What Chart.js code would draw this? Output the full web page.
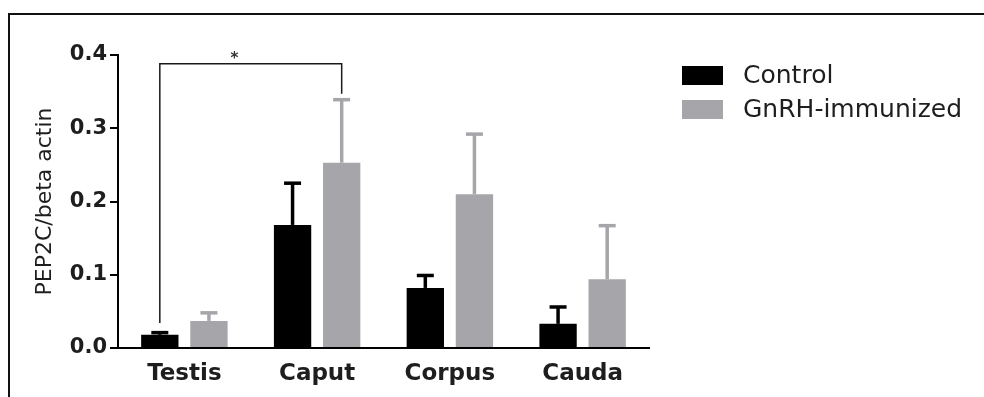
<!DOCTYPE html>
<html>
<head>
<meta charset="utf-8">
<script src="https://cdn.jsdelivr.net/npm/chart.js@4.4.0/dist/chart.umd.min.js"></script>
<style>
  html, body { margin: 0; padding: 0; background: #fff; }
</style>
</head>
<body>
<canvas id="chart" width="984" height="397"></canvas>
<script>
// data
var categories = ["Testis", "Caput", "Corpus", "Cauda"];
var seriesNames = ["Control", "GnRH-immunized"];
var control = [0.018, 0.168, 0.082, 0.033];
var controlErr = [0.003, 0.057, 0.017, 0.023];
var gnrh = [0.037, 0.253, 0.210, 0.094];
var gnrhErr = [0.011, 0.086, 0.082, 0.073];
var tickLabels = ["0.0", "0.1", "0.2", "0.3", "0.4"];
var yTitle = "PEP2C/beta actin";
var sigMark = "*";
var sigHeight = 0.388;

var black = "#000000";
var grey = "#a6a6aa";
var textColor = "#1e1e1e";
var fontFamily = "'DejaVu Sans', sans-serif";

// white background + the outer frame (top and left edges only)
var framePlugin = {
  id: "frame",
  beforeDraw: function(chart){
    var ctx = chart.ctx;
    ctx.save();
    ctx.fillStyle = "#fff";
    ctx.fillRect(0, 0, chart.width, chart.height);
    ctx.strokeStyle = "#111";
    ctx.lineWidth = 2;
    ctx.beginPath();
    ctx.moveTo(9, chart.height);
    ctx.lineTo(9, 14);
    ctx.lineTo(chart.width, 14);
    ctx.stroke();
    ctx.restore();
  }
};

// SD error bars, upper side only
var errorBarPlugin = {
  id: "errorBars",
  afterDatasetsDraw: function(chart){
    var ctx = chart.ctx;
    var y = chart.scales.y;
    ctx.save();
    chart.data.datasets.forEach(function(ds, di){
      var meta = chart.getDatasetMeta(di);
      meta.data.forEach(function(bar, i){
        var top = y.getPixelForValue(ds.data[i] + ds.errors[i]);
        ctx.strokeStyle = ds.backgroundColor;
        ctx.lineWidth = 3.5;
        ctx.beginPath();
        ctx.moveTo(bar.x, bar.y);
        ctx.lineTo(bar.x, top);
        ctx.stroke();
        ctx.beginPath();
        ctx.moveTo(bar.x - 8.5, top);
        ctx.lineTo(bar.x + 8.5, top);
        ctx.stroke();
      });
    });
    ctx.restore();
  }
};

// significance bracket Testis control vs Caput GnRH
var bracketPlugin = {
  id: "bracket",
  afterDatasetsDraw: function(chart){
    var ctx = chart.ctx;
    var y = chart.scales.y;
    var d0 = chart.data.datasets[0], d1 = chart.data.datasets[1];
    var b0 = chart.getDatasetMeta(0).data[0];
    var b1 = chart.getDatasetMeta(1).data[1];
    var yTop = y.getPixelForValue(sigHeight);
    var yL = y.getPixelForValue(d0.data[0] + d0.errors[0] + 0.013);
    var yR = y.getPixelForValue(d1.data[1] + d1.errors[1] + 0.008);
    ctx.save();
    ctx.strokeStyle = "#1a1a1a";
    ctx.lineWidth = 1.5;
    ctx.beginPath();
    ctx.moveTo(b0.x, yL);
    ctx.lineTo(b0.x, yTop);
    ctx.lineTo(b1.x, yTop);
    ctx.lineTo(b1.x, yR);
    ctx.stroke();
    ctx.fillStyle = "#333";
    ctx.font = "bold 15px " + fontFamily;
    ctx.textAlign = "center";
    ctx.textBaseline = "middle";
    ctx.fillText(sigMark, b0.x + (b1.x - b0.x) * 0.41, yTop - 5);
    ctx.restore();
  }
};

// legend to the right of the plot
var legendPlugin = {
  id: "sideLegend",
  afterDraw: function(chart){
    var ctx = chart.ctx;
    var x0 = chart.chartArea.right + 33;
    ctx.save();
    ctx.font = "25px " + fontFamily;
    ctx.textBaseline = "middle";
    ctx.textAlign = "left";
    chart.data.datasets.forEach(function(ds, i){
      var top = 66 + i * 34;
      ctx.fillStyle = ds.backgroundColor;
      ctx.fillRect(x0, top, 41, 19);
      ctx.fillStyle = textColor;
      ctx.fillText(ds.label, x0 + 61, top + 10);
    });
    ctx.restore();
  }
};

var ctx = document.getElementById("chart").getContext("2d");
var chart = new Chart(ctx, {
  type: "bar",
  data: {
    labels: categories,
    datasets: [
      {
        label: seriesNames[0],
        data: control,
        errors: controlErr,
        backgroundColor: black,
        categoryPercentage: 0.74,
        barPercentage: 0.76
      },
      {
        label: seriesNames[1],
        data: gnrh,
        errors: gnrhErr,
        backgroundColor: grey,
        categoryPercentage: 0.74,
        barPercentage: 0.76
      }
    ]
  },
  options: {
    responsive: false,
    animation: false,
    layout: { padding: { left: 28, top: 55, right: 335, bottom: 0 } },
    plugins: {
      legend: { display: false },
      tooltip: { enabled: false }
    },
    scales: {
      x: {
        grid: { drawOnChartArea: false, drawTicks: false },
        border: { display: true, color: black, width: 2 },
        ticks: {
          color: textColor,
          padding: 12,
          font: { family: fontFamily, size: 23, weight: "bold" }
        },
        afterFit: function(scale){ scale.height = 49; }
      },
      y: {
        min: 0,
        max: 0.4,
        grid: { drawOnChartArea: false, drawTicks: true, tickLength: 8, color: black, lineWidth: 2 },
        border: { display: true, color: black, width: 2 },
        ticks: {
          stepSize: 0.1,
          color: textColor,
          padding: 3,
          font: { family: fontFamily, size: 21, weight: "bold" },
          callback: function(value, index){ return tickLabels[index]; }
        },
        title: {
          display: true,
          text: yTitle,
          color: textColor,
          padding: { top: 4, bottom: 4 },
          font: { family: fontFamily, size: 22 }
        },
        afterFit: function(scale){ scale.width = 90; }
      }
    }
  },
  plugins: [framePlugin, errorBarPlugin, bracketPlugin, legendPlugin]
});
</script>
</body>
</html>
